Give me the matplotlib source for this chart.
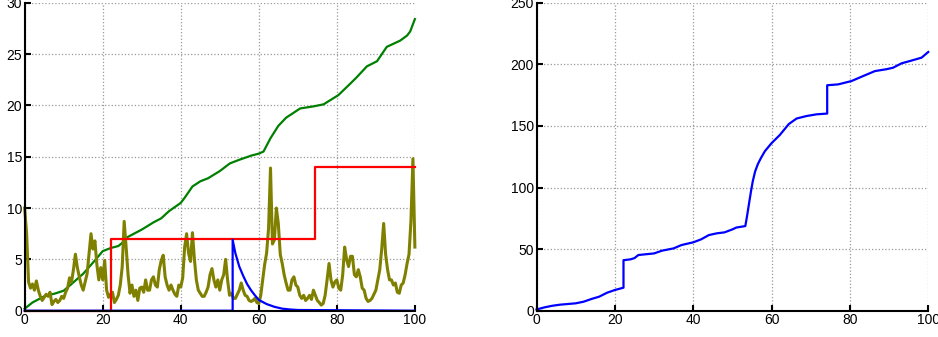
import numpy as np
import matplotlib
matplotlib.use('Agg')
import matplotlib.pyplot as plt

plt.rcParams['font.family'] = ['Liberation Sans', 'DejaVu Sans']

# 左图: 绿色累积曲线
green_x = [0, 2, 5, 8, 10, 12, 15, 18, 20, 22, 24, 25, 26, 28, 30, 33, 35, 37, 40,
           41, 43, 45, 47, 50, 52.6, 55, 58, 60, 61.2, 63, 65, 67, 70.6, 74, 76.6,
           80.4, 83.4, 85, 87.7, 90.3, 92.8, 94.5, 96.2, 98, 98.8, 100]
green_y = [0.2, 0.8, 1.4, 1.7, 1.95, 2.6, 3.6, 4.9, 5.8, 6.1, 6.3, 6.6, 7.1, 7.5,
           7.9, 8.6, 9.0, 9.7, 10.5, 11.0, 12.1, 12.6, 12.9, 13.6, 14.35, 14.7, 15.1,
           15.3, 15.5, 16.8, 18.0, 18.8, 19.7, 19.9, 20.1, 21.0, 22.1, 22.7, 23.8,
           24.3, 25.7, 26.0, 26.3, 26.8, 27.2, 28.4]

# 红色阶梯
red_x = [0, 22.2, 22.2, 74.4, 74.4, 100]
red_y = [0, 0, 7, 7, 14, 14]

# 蓝色衰减
blue_x = [0, 53.3, 53.3, 54, 55, 56, 57, 58, 59, 60, 62, 64, 66, 68, 70, 100]
blue_y = [0, 0, 6.9, 5.6, 4.3, 3.4, 2.6, 2.0, 1.5, 1.05, 0.65, 0.38, 0.2, 0.12, 0.07, 0]

# 橄榄色噪声曲线 (x = 0, 0.5, ..., 100)
olive_y = [10.0, 7.5, 2.8, 2.2, 2.6, 2.0, 2.9, 2.0, 1.4, 1.0, 1.3, 1.6, 1.4, 1.8, 0.6, 0.9, 1.1, 0.8, 1.0, 1.4,
           1.2, 1.8, 2.2, 3.2, 2.8, 4.0, 5.5, 4.2, 3.3, 2.5, 2.0, 2.8, 3.6, 5.5, 7.5, 6.0, 6.8, 4.5, 3.0, 4.2,
           3.0, 4.9, 2.0, 1.3, 1.6, 1.8, 0.8, 1.1, 1.5, 2.5, 4.3, 8.7, 6.2, 3.5, 1.7, 2.5, 1.4, 2.0, 1.0, 2.2,
           2.3, 1.8, 3.0, 2.0, 2.0, 3.0, 3.3, 2.5, 2.3, 4.0, 4.9, 5.4, 3.3, 2.5, 2.0, 2.5, 2.0, 1.6, 1.4, 2.5,
           2.3, 3.2, 6.2, 7.5, 5.6, 4.8, 7.6, 5.0, 3.0, 2.0, 1.7, 1.4, 1.4, 1.8, 2.3, 3.5, 4.1, 3.0, 2.3, 3.0,
           2.0, 3.0, 3.5, 5.0, 3.0, 1.5, 1.7, 1.2, 1.2, 1.6, 2.0, 2.7, 2.0, 1.5, 1.4, 1.0, 0.9, 1.0, 1.2, 0.8,
           0.7, 1.5, 3.0, 4.5, 5.6, 8.0, 13.9, 6.5, 6.9, 10.0, 8.5, 5.5, 4.6, 3.5, 2.7, 2.0, 2.0, 3.0, 3.3, 2.5,
           2.3, 1.5, 1.2, 1.5, 1.0, 1.2, 1.5, 1.1, 2.0, 1.5, 1.0, 0.8, 0.55, 0.7, 1.5, 3.0, 4.6, 3.0, 2.3, 2.8,
           3.0, 2.2, 2.0, 3.5, 6.2, 5.0, 4.3, 5.3, 5.3, 3.5, 3.3, 4.0, 3.3, 2.2, 2.0, 1.2, 0.9, 1.0, 1.2, 1.6,
           2.0, 3.0, 4.0, 6.0, 8.5, 5.5, 4.0, 3.0, 3.0, 2.5, 2.7, 1.8, 1.7, 2.5, 2.7, 3.5, 4.6, 5.5, 8.8, 14.8,
           6.2]
olive_x = np.linspace(0, 100, len(olive_y))

# 右图: 蓝色曲线
right_x = [0, 2, 4, 6, 10, 12, 14, 16, 18, 20, 22.2, 22.2, 24, 25, 26, 30, 32, 35, 37,
           40, 42, 44, 46, 48, 50, 51, 53.3, 53.7, 54.2, 54.7, 55.2, 55.8, 56.5, 57.3,
           58.3, 60, 62.1, 64.4, 66.4, 68.9, 71.5, 74.2, 74.2, 77.0, 80.4, 83.4, 86.4,
           89.3, 91.0, 93.2, 95.7, 98.3, 100]
right_y = [1, 2.7, 4, 4.9, 6, 7.3, 9.5, 11.4, 14.6, 16.8, 18.7, 41, 41.7, 42.7, 45.2,
           46.5, 48.7, 50.6, 53.3, 55.5, 57.9, 61.4, 62.8, 63.6, 66, 67.5, 68.7, 76,
           86, 96, 105, 113, 119, 124, 129.5, 136, 142.6, 151.5, 156, 158, 159.4, 160,
           183, 183.7, 186.4, 190.5, 194.5, 196, 197.2, 200.8, 203, 205.4, 210]

fig = plt.figure(figsize=(9.38, 3.37), dpi=100)
ax1 = fig.add_axes([0.0263, 0.078, 0.416, 0.914])
ax2 = fig.add_axes([0.572, 0.078, 0.4176, 0.914])

ax1.plot(green_x, green_y, color='#008000', lw=1.6)
ax1.plot(olive_x, olive_y, color='#808000', lw=2.2)
ax1.plot(red_x, red_y, color='#ff0000', lw=1.6)
ax1.plot(blue_x, blue_y, color='#0000ff', lw=1.6)
ax1.set_ylim(0, 30)
ax1.set_yticks([0, 5, 10, 15, 20, 25, 30])

ax2.plot(right_x, right_y, color='#0000ff', lw=1.6)
ax2.set_ylim(0, 250)
ax2.set_yticks([0, 50, 100, 150, 200, 250])

for ax in (ax1, ax2):
    ax.set_xlim(0, 100)
    ax.set_xticks([0, 20, 40, 60, 80, 100])
    ax.grid(True, linestyle=':', color='#999999', linewidth=0.9)
    ax.spines['top'].set_visible(False)
    ax.spines['right'].set_visible(False)
    ax.spines['left'].set_linewidth(1.5)
    ax.spines['bottom'].set_linewidth(1.5)
    ax.tick_params(direction='in', length=4, width=1.5, labelsize=10, pad=2)
    for l in ax.lines:
        l.set_clip_on(False)

fig.savefig('out.png', dpi=100)
